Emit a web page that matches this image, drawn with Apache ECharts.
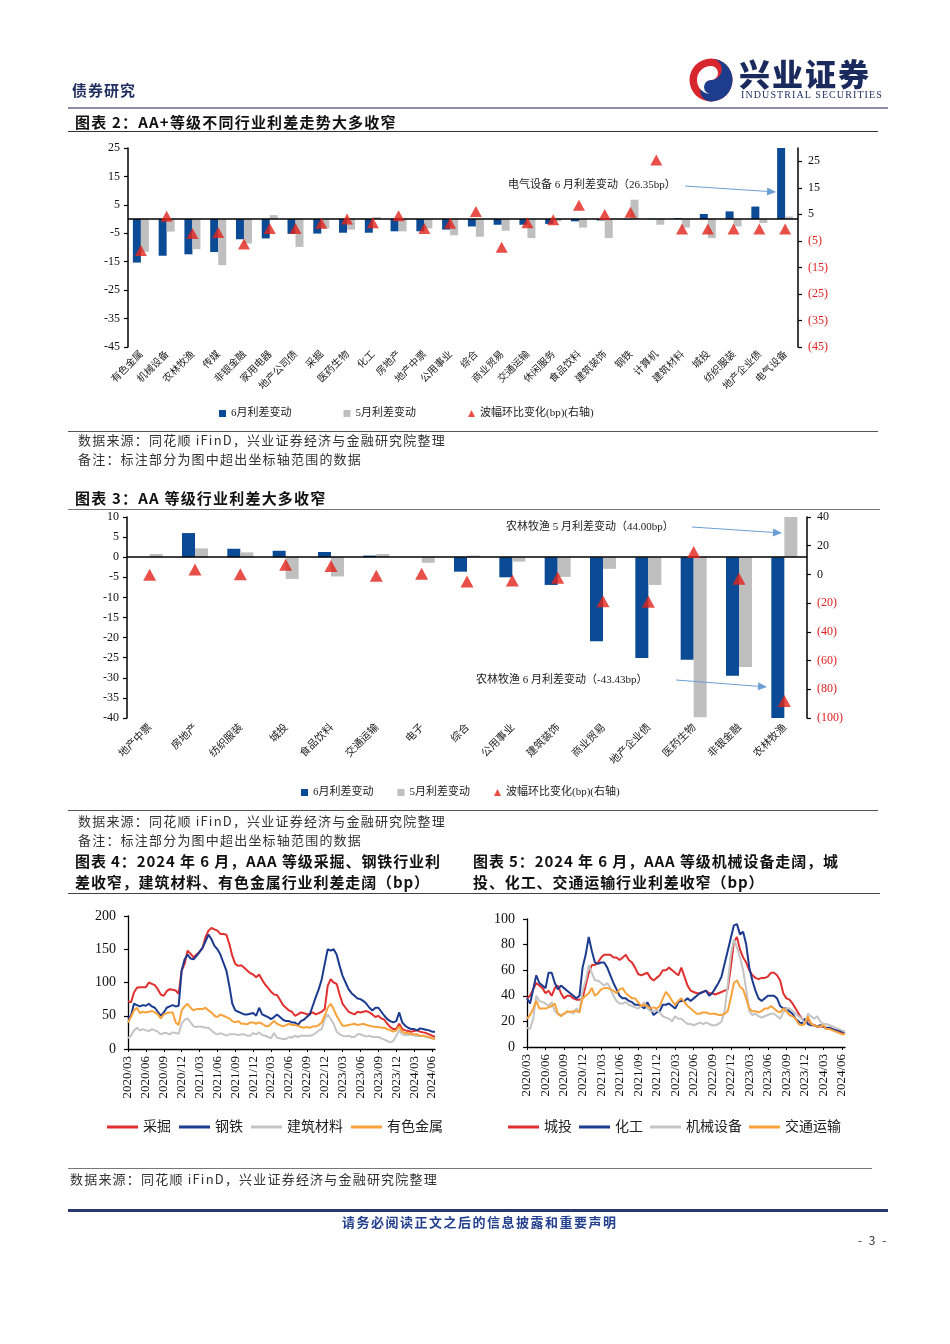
<!DOCTYPE html>
<html><head><meta charset="utf-8">
<script src="https://cdn.jsdelivr.net/npm/echarts@6/dist/echarts.min.js"></script>
<style>
html,body{margin:0;padding:0;background:#fff;}
#page{position:relative;width:950px;height:1344px;overflow:hidden;background:#fff;font-family:"Noto Sans CJK SC",sans-serif;}
#chart{position:absolute;left:0;top:0;width:950px;height:1344px;z-index:1;}
.t{position:absolute;white-space:nowrap;z-index:2;line-height:20px;}
.title{font-weight:700;font-size:15px;color:#111;letter-spacing:1.2px;}
.src{font-size:13px;color:#333;letter-spacing:1.2px;}
.hr{position:absolute;z-index:2;}
</style></head>
<body><div id="page">
<div id="chart"></div>
<div class="t" style="left:72px;top:80px;font-size:15px;font-weight:700;color:#1f2f5f;letter-spacing:1px;">债券研究</div>
<svg class="hr" style="left:688px;top:57px;" width="46" height="46" viewBox="0 0 46 46">
<circle cx="23" cy="23" r="21.5" fill="#d8262e"/>
<path d="M23 1.5 A21.5 21.5 0 0 1 23 44.5 A10.75 10.75 0 0 1 23 23 A10.75 10.75 0 0 0 23 1.5Z" fill="#1d3c8c"/>
<path d="M23 9 A7 7 0 0 1 23 23 A7 7 0 0 0 23 37 A14 14 0 0 1 23 9Z" fill="#fff"/>
</svg>
<div class="t" style="left:739px;top:55px;font-size:31px;line-height:36px;font-weight:900;color:#1b2a5c;letter-spacing:2px;">兴业证券</div>
<div class="t" style="left:741px;top:89px;font-size:10px;line-height:12px;font-family:'Liberation Serif',serif;color:#1b2a5c;letter-spacing:1.1px;">INDUSTRIAL SECURITIES</div>
<div class="hr" style="left:68px;top:107px;width:820px;height:2px;background:#8c8cab;"></div>
<div class="t title" style="left:75px;top:112px;">图表 2：AA+等级不同行业利差走势大多收窄</div>
<div class="hr" style="left:68px;top:131px;width:810px;height:1px;background:#333;"></div>
<div class="hr" style="left:68px;top:431px;width:810px;height:1px;background:#555;"></div>
<div class="t src" style="left:78px;top:430px;">数据来源：同花顺 iFinD，兴业证券经济与金融研究院整理</div>
<div class="t src" style="left:78px;top:449px;">备注：标注部分为图中超出坐标轴范围的数据</div>
<div class="t title" style="left:75px;top:488px;">图表 3：AA 等级行业利差大多收窄</div>
<div class="hr" style="left:68px;top:509px;width:812px;height:1px;background:#777;"></div>
<div class="hr" style="left:68px;top:810px;width:810px;height:1px;background:#555;"></div>
<div class="t src" style="left:78px;top:811px;">数据来源：同花顺 iFinD，兴业证券经济与金融研究院整理</div>
<div class="t src" style="left:78px;top:830px;">备注：标注部分为图中超出坐标轴范围的数据</div>
<div class="t title" style="left:75px;top:851px;letter-spacing:0.9px;">图表 4：2024 年 6 月，AAA 等级采掘、钢铁行业利</div>
<div class="t title" style="left:75px;top:872px;letter-spacing:0.9px;">差收窄，建筑材料、有色金属行业利差走阔（bp）</div>
<div class="t title" style="left:473px;top:851px;letter-spacing:0.9px;">图表 5：2024 年 6 月，AAA 等级机械设备走阔，城</div>
<div class="t title" style="left:473px;top:872px;letter-spacing:0.9px;">投、化工、交通运输行业利差收窄（bp）</div>
<div class="hr" style="left:68px;top:893px;width:812px;height:1px;background:#444;"></div>
<div class="hr" style="left:68px;top:1168px;width:804px;height:1px;background:#777;"></div>
<div class="t src" style="left:70px;top:1169px;">数据来源：同花顺 iFinD，兴业证券经济与金融研究院整理</div>
<div class="hr" style="left:68px;top:1209px;width:820px;height:3px;background:#2b3770;"></div>
<div class="t" style="left:342px;top:1212px;font-size:13px;font-weight:700;color:#24408e;letter-spacing:1.5px;">请务必阅读正文之后的信息披露和重要声明</div>
<div class="t" style="left:858px;top:1230px;font-size:12px;color:#333;letter-spacing:2px;">- 3 -</div>
</div>
<script>
// ---------- 图表2: AA+ 等级 ----------
const cats2 = ['有色金属','机械设备','农林牧渔','传媒','非银金融','家用电器','地产公司债','采掘','医药生物','化工','房地产','地产中票','公用事业','综合','商业贸易','交通运输','休闲服务','食品饮料','建筑装饰','钢铁','计算机','建筑材料','城投','纺织服装','地产企业债','电气设备'];
const jun2 = [-15.3,-12.9,-12.4,-11.6,-7.1,-6.8,-5.2,-5.1,-4.8,-4.8,-4.3,-4.3,-3.7,-2.6,-2.0,-2.0,-1.7,-0.8,-0.5,-0.1,0.1,0.3,1.8,2.7,4.4,26.35];
const may2 = [-11.5,-4.4,-10.6,-16.2,-8.6,1.4,-9.8,-3.3,-3.7,0.7,-4.3,-3.3,-5.7,-6.2,-4.1,-6.7,-0.8,-3.0,-6.7,6.8,-2.0,-3.0,-6.7,-2.6,-1.4,0.9];
const amp2 = [-8.6,4.3,-2.2,-1.8,-6.2,-0.3,-0.3,1.6,3.2,1.8,4.5,-0.3,1.6,6.1,-7.4,1.8,3.0,8.4,4.9,5.8,25.5,-0.5,-0.5,-0.5,-0.5,-0.5];
const left2Ticks = [-45,-35,-25,-15,-5,5,15,25];
const right2Ticks = [-45,-35,-25,-15,-5,5,15,25];

// ---------- 图表3: AA 等级 ----------
const cats3 = ['地产中票','房地产','纺织服装','城投','食品饮料','交通运输','电子','综合','公用事业','建筑装饰','商业贸易','地产企业债','医药生物','非银金融','农林牧渔'];
const jun3 = [0.0,6.0,2.1,1.6,1.3,0.4,0.0,-3.6,-5.0,-6.9,-20.9,-25.1,-25.5,-29.5,-43.43];
const may3 = [0.8,2.2,1.2,-5.4,-4.8,0.8,-1.4,0.4,-1.1,-4.9,-2.9,-6.9,-39.8,-27.3,44.0];
const amp3 = [-0.3,3.5,0.2,6.7,5.8,-1.0,0.4,-4.9,-4.2,-2.3,-18.6,-19.1,15.7,-3.0,-88.2];

// ---------- 图表4/5: 半月度 2020/03 - 2024/06 ----------
const dates = [];
for (let y = 2020, m = 3; dates.length < 104;) {
  const mm = String(m).padStart(2, '0');
  dates.push(y + '/' + mm + '/01', y + '/' + mm + '/16');
  m++; if (m > 12) { m = 1; y++; }
}
const caijue = [72,70,85,92,93,93,93,100,98,96, 90,82,80,87,90,89,88,83,118,128, 148,143,138,142,146,152,168,178,182,180,
  178,173,173,172,158,140,128,125,126,122, 118,114,112,108,112,104,97,92,86,82, 81,74,66,62,58,56,50,52,55,54,
  52,53,55,52,54,56,60,95,105,100, 98,82,68,62,56,54,52,56,55,56, 57,55,52,48,50,46,44,38,33,30, 30,38,30,28,27,26,27,28,26,25, 24,22,20,18];
const gangtie = [46,50,68,66,64,66,65,68,64,62, 56,50,55,62,64,66,64,65,118,135, 142,136,135,140,146,152,162,172,165,155,
  150,142,130,118,95,68,58,56,54,52, 52,53,54,50,62,52,50,48,45,48, 52,48,44,42,42,40,40,36,42,44,
  48,52,65,78,90,105,128,150,148,150, 142,125,110,100,90,84,80,76,75,72, 68,62,58,62,62,56,50,45,42,40, 42,55,40,35,32,30,30,28,31,30, 29,28,26,26];
const jiancai = [16,20,28,32,28,30,28,27,30,28, 26,22,24,24,22,25,24,23,38,44, 46,40,34,33,34,33,32,32,28,24,
  22,24,22,20,22,22,22,21,22,22, 20,20,24,22,25,21,20,18,16,24, 17,16,15,15,18,17,20,18,20,20,
  20,20,21,24,28,30,45,52,45,38, 26,22,20,19,20,18,18,22,22,20, 19,20,18,18,18,16,14,12,10,12, 20,28,22,21,21,22,20,20,19,20, 18,17,16,15];
const youse = [40,48,58,62,54,56,55,56,57,55, 52,46,52,54,55,55,40,36,58,64, 68,62,58,60,60,60,62,58,55,50,
  48,52,50,48,46,42,40,42,38,38, 37,40,40,38,40,38,35,34,38,42, 38,36,34,36,38,36,36,35,33,32,
  33,32,34,34,36,40,50,62,68,60, 50,42,35,35,36,37,38,36,37,38, 36,35,34,33,33,32,32,30,28,26, 28,34,26,24,24,22,22,22,20,20, 19,18,16,15];

const chengtou = [38,40,45,50,48,46,42,44,40,46, 48,42,38,40,40,38,37,37,38,48, 58,64,64,66,70,72,72,72,70,70,
  68,70,72,68,66,62,57,56,57,58, 54,52,54,56,60,60,62,60,58,56, 62,55,48,44,43,42,42,43,44,42,
  42,41,42,43,44,45,62,82,86,76, 70,66,60,56,54,53,54,54,55,58, 58,56,52,42,38,37,34,30,26,22, 20,22,18,17,16,16,16,14,15,14, 13,12,11,10];
const huagong = [38,34,45,56,50,48,46,58,58,50, 45,48,46,44,42,40,38,40,62,72, 86,75,66,65,66,66,62,56,50,45,
  40,38,38,36,35,33,33,32,30,35, 30,25,27,28,33,33,34,32,30,35, 36,36,38,36,38,40,42,43,44,40,
  42,46,50,55,65,75,85,95,96,88, 90,80,62,52,44,38,36,38,40,40, 40,38,32,30,30,28,26,22,20,18, 22,18,17,17,16,17,16,15,15,14, 13,13,12,12];
const jixie = [15,14,22,40,36,35,34,32,35,28, 26,25,26,27,28,26,30,28,44,52, 64,58,52,52,50,48,50,46,40,36,
  34,34,35,33,32,31,30,32,35,30, 28,28,29,27,24,23,22,20,24,22, 22,20,18,18,17,18,19,18,19,18,
  17,17,18,20,28,48,72,84,78,70, 60,45,28,25,26,24,23,24,25,26, 26,24,22,27,30,30,28,26,24,22, 18,26,24,22,24,20,18,18,17,16, 15,14,13,12];
const jiaotong = [22,25,30,36,30,30,30,31,32,34, 26,24,26,28,27,28,28,27,38,40, 42,46,40,42,45,46,46,45,44,42,
  45,46,42,40,38,38,35,32,33,32, 30,31,30,32,38,43,40,36,33,36, 38,35,32,30,28,26,26,27,27,26,
  26,26,25,25,26,28,38,50,52,47, 45,38,30,28,28,27,28,30,30,32, 30,28,27,30,28,25,24,22,18,17, 18,24,18,17,16,16,17,14,14,13, 12,11,10,10];

const chart4Names = ['采掘','钢铁','建筑材料','有色金属'];
const chart5Names = ['城投','化工','机械设备','交通运输'];

// ---------- styles ----------
const SERIF = '"Liberation Serif","Times New Roman",serif';
const MIX = '"Liberation Serif","Noto Sans CJK SC",serif';
const C_BLUE = '#0b4a95', C_GRAY = '#bfbfbf', C_RED = '#e2231a';
const L_RED = '#e03030', L_BLUE = '#1c3b8f', L_GRAY = '#c4c4c4', L_ORANGE = '#f7a23b';

function rightFmt(v) { return v < 0 ? '{r|(' + (-v) + ')}' : '{k|' + v + '}'; }
const rightRich = { r: { color: '#e02020', fontFamily: SERIF, fontSize: 12 }, k: { color: '#111', fontFamily: SERIF, fontSize: 12 } };

function arrow(x1, y1, x2, y2) {
  const a = Math.atan2(y2 - y1, x2 - x1), L = 9, W = 4;
  const bx = x2 - L * Math.cos(a), by = y2 - L * Math.sin(a);
  const px = -Math.sin(a) * W, py = Math.cos(a) * W;
  return [
    { type: 'line', z: 100, shape: { x1: x1, y1: y1, x2: bx, y2: by }, style: { stroke: '#6b9fd6', lineWidth: 1 } },
    { type: 'polygon', z: 100, shape: { points: [[x2, y2], [bx + px, by + py], [bx - px, by - py]] }, style: { fill: '#6b9fd6' } }
  ];
}
function note(x, y, txt) {
  return { type: 'text', z: 100, x: x, y: y, style: { text: txt, font: '11px "Liberation Serif","Noto Sans CJK SC"', fill: '#222', textVerticalAlign: 'middle', verticalAlign: 'middle' } };
}

const valAxisBase = (grid, pos, min, max, extra) => Object.assign({
  type: 'value', gridIndex: grid, position: pos, min: min, max: max,
  axisLine: { show: true, onZero: false, lineStyle: { color: '#000', width: 1.5 } },
  axisTick: { show: true, length: 4, inside: false, lineStyle: { color: '#000', width: 1.2 } },
  splitLine: { show: false },
  axisLabel: { fontFamily: SERIF, fontSize: 12, color: '#111', margin: 8 }
}, extra || {});

const catAxisBar = (grid, data, fs, margin) => ({
  type: 'category', gridIndex: grid, data: data, position: 'bottom',
  axisLine: { show: false, onZero: false }, axisTick: { show: false },
  axisLabel: { interval: 0, rotate: 45, fontSize: fs, color: '#222', margin: margin, fontFamily: '"Noto Sans CJK SC",sans-serif' }
});
const catAxisLine = (grid) => ({
  type: 'category', gridIndex: grid, data: dates, boundaryGap: false,
  axisLine: { show: true, onZero: false, lineStyle: { color: '#000', width: 1.3 } },
  axisTick: { show: true, interval: 5, length: 3, lineStyle: { color: '#000' } },
  axisLabel: { interval: 5, rotate: 90, fontSize: 13, fontFamily: SERIF, color: '#111', margin: 7, formatter: v => v.slice(0, 7) }
});

const zeroLine = { silent: true, symbol: ['none', 'none'], label: { show: false }, lineStyle: { color: '#000', width: 1.5, type: 'solid' }, data: [{ yAxis: 0 }], animation: false };
const lineLegend = names => names.map(n => ({ name: n, icon: 'rect' }));

const option = {
  animation: false,
  backgroundColor: 'transparent',
  grid: [
    { left: 128, top: 148, width: 670, height: 199, containLabel: false, outerBoundsMode: 'none' },
    { left: 127, top: 517, width: 680, height: 201, containLabel: false, outerBoundsMode: 'none' },
    { left: 128, top: 916, width: 307, height: 133, containLabel: false, outerBoundsMode: 'none' },
    { left: 527, top: 919, width: 318, height: 128, containLabel: false, outerBoundsMode: 'none' }
  ],
  xAxis: [catAxisBar(0, cats2, 10, 5), catAxisBar(1, cats3, 10.5, 7), catAxisLine(2), catAxisLine(3)],
  yAxis: [
    valAxisBase(0, 'left', -45, 25, { axisLabel: { fontFamily: SERIF, fontSize: 12, color: '#111', margin: 8, customValues: left2Ticks }, axisTick: { show: true, length: 4, lineStyle: { color: '#000', width: 1.2 }, customValues: left2Ticks } }),
    valAxisBase(0, 'right', -45, 30, { axisLabel: { margin: 10, formatter: rightFmt, rich: rightRich, customValues: right2Ticks }, axisTick: { show: true, length: 4, lineStyle: { color: '#000', width: 1.2 }, customValues: right2Ticks } }),
    valAxisBase(1, 'left', -40, 10, { interval: 5 }),
    valAxisBase(1, 'right', -100, 40, { interval: 20, axisLabel: { margin: 10, formatter: rightFmt, rich: rightRich } }),
    valAxisBase(2, 'left', 0, 200, { interval: 50, axisLine: { show: true, onZero: false, lineStyle: { color: '#000', width: 1.3 } }, axisLabel: { fontFamily: SERIF, fontSize: 14, color: '#111', margin: 12 } }),
    valAxisBase(3, 'left', 0, 100, { interval: 20, axisLine: { show: true, onZero: false, lineStyle: { color: '#000', width: 1.3 } }, axisLabel: { fontFamily: SERIF, fontSize: 14, color: '#111', margin: 12 } })
  ],
  legend: [
    { data: [{ name: '6月利差变动', icon: 'rect' }, { name: '5月利差变动', icon: 'rect' }, { name: '波幅环比变化(bp)(右轴)', icon: 'triangle' }],
      left: 214, top: 403, itemWidth: 7, itemHeight: 7, itemGap: 52, selectedMode: false,
      textStyle: { fontSize: 11, color: '#222', fontFamily: MIX } },
    { data: [{ name: '6月利差变动', icon: 'rect' }, { name: '5月利差变动', icon: 'rect' }, { name: '波幅环比变化(bp)(右轴)', icon: 'triangle' }],
      left: 296, top: 782, itemWidth: 7, itemHeight: 7, itemGap: 24, selectedMode: false,
      textStyle: { fontSize: 11, color: '#222', fontFamily: MIX } },
    { data: lineLegend(chart4Names), left: 102, top: 1115, itemWidth: 31, itemHeight: 3, itemGap: 8, selectedMode: false,
      textStyle: { fontSize: 14, color: '#222', fontFamily: MIX } },
    { data: lineLegend(chart5Names), left: 503, top: 1115, itemWidth: 31, itemHeight: 3, itemGap: 7, selectedMode: false,
      textStyle: { fontSize: 14, color: '#222', fontFamily: MIX } }
  ],
  series: [
    { name: '6月利差变动', type: 'bar', xAxisIndex: 0, yAxisIndex: 0, data: jun2, barWidth: 8, barGap: '0%', itemStyle: { color: C_BLUE }, markLine: zeroLine },
    { name: '5月利差变动', type: 'bar', xAxisIndex: 0, yAxisIndex: 0, data: may2, barWidth: 8, barGap: '0%', itemStyle: { color: C_GRAY } },
    { name: '波幅环比变化(bp)(右轴)', type: 'scatter', xAxisIndex: 0, yAxisIndex: 1, data: amp2, symbol: 'triangle', symbolSize: [12, 11], itemStyle: { color: C_RED }, z: 5 },

    { name: '6月利差变动', type: 'bar', xAxisIndex: 1, yAxisIndex: 2, data: jun3, barWidth: 13, barGap: '0%', itemStyle: { color: C_BLUE }, markLine: zeroLine },
    { name: '5月利差变动', type: 'bar', xAxisIndex: 1, yAxisIndex: 2, data: may3, barWidth: 13, barGap: '0%', itemStyle: { color: C_GRAY } },
    { name: '波幅环比变化(bp)(右轴)', type: 'scatter', xAxisIndex: 1, yAxisIndex: 3, data: amp3, symbol: 'triangle', symbolSize: [13, 12], itemStyle: { color: C_RED }, z: 5 },

    { name: '采掘', type: 'line', xAxisIndex: 2, yAxisIndex: 4, data: caijue, symbol: 'none', lineStyle: { color: L_RED, width: 2 }, itemStyle: { color: L_RED } },
    { name: '钢铁', type: 'line', xAxisIndex: 2, yAxisIndex: 4, data: gangtie, symbol: 'none', lineStyle: { color: L_BLUE, width: 2 }, itemStyle: { color: L_BLUE } },
    { name: '建筑材料', type: 'line', xAxisIndex: 2, yAxisIndex: 4, data: jiancai, symbol: 'none', lineStyle: { color: L_GRAY, width: 2 }, itemStyle: { color: L_GRAY } },
    { name: '有色金属', type: 'line', xAxisIndex: 2, yAxisIndex: 4, data: youse, symbol: 'none', lineStyle: { color: L_ORANGE, width: 2 }, itemStyle: { color: L_ORANGE } },

    { name: '城投', type: 'line', xAxisIndex: 3, yAxisIndex: 5, data: chengtou, symbol: 'none', lineStyle: { color: L_RED, width: 2 }, itemStyle: { color: L_RED } },
    { name: '化工', type: 'line', xAxisIndex: 3, yAxisIndex: 5, data: huagong, symbol: 'none', lineStyle: { color: L_BLUE, width: 2 }, itemStyle: { color: L_BLUE } },
    { name: '机械设备', type: 'line', xAxisIndex: 3, yAxisIndex: 5, data: jixie, symbol: 'none', lineStyle: { color: L_GRAY, width: 2 }, itemStyle: { color: L_GRAY } },
    { name: '交通运输', type: 'line', xAxisIndex: 3, yAxisIndex: 5, data: jiaotong, symbol: 'none', lineStyle: { color: L_ORANGE, width: 2 }, itemStyle: { color: L_ORANGE } }
  ],
  graphic: [].concat(
    [note(508, 185, '电气设备 6 月利差变动（26.35bp）')], arrow(685, 186, 776, 192),
    [note(506, 527, '农林牧渔 5 月利差变动（44.00bp）')], arrow(692, 527, 782, 533),
    [note(476, 680, '农林牧渔 6 月利差变动（-43.43bp）')], arrow(676, 680, 767, 687)
  )
};
const chart = echarts.init(document.getElementById('chart'), null, { renderer: 'canvas' });
chart.setOption(option);
</script>
</body></html>
